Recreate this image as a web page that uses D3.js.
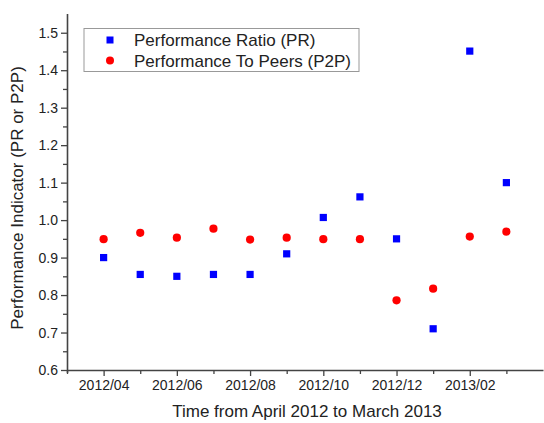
<!DOCTYPE html>
<html>
<head>
<meta charset="utf-8">
<script src="https://cdn.jsdelivr.net/npm/d3@7"></script>
<style>
  body { margin: 0; background: #fff; }
  svg text { font-family: "Liberation Sans", Arial, sans-serif; fill: #222; }
</style>
</head>
<body>
<script>
// months since 2012/04 (0 = Apr 2012 ... 11 = Mar 2013)
var months = [0, 1, 2, 3, 4, 5, 6, 7, 8, 9, 10, 11];
var prValues = [0.90, 0.855, 0.85, 0.855, 0.855, 0.91, 1.007, 1.062, 0.95, 0.71, 1.451, 1.10];
var p2pValues = [0.949, 0.966, 0.953, 0.977, 0.948, 0.953, 0.949, 0.949, 0.786, 0.817, 0.956, 0.969];
var xTickMonths = [0, 2, 4, 6, 8, 10];
var xTickLabels = ["2012/04", "2012/06", "2012/08", "2012/10", "2012/12", "2013/02"];
var yTicks = [0.6, 0.7, 0.8, 0.9, 1.0, 1.1, 1.2, 1.3, 1.4, 1.5];
var seriesNames = ["Performance Ratio (PR)", "Performance To Peers (P2P)"];

var margin = {top: 14, right: 1, bottom: 53, left: 67},
    width = 544 - margin.left - margin.right,
    height = 423 - margin.top - margin.bottom;

var x = d3.scaleLinear().domain([-1, 12]).range([0, width]);
var y = d3.scaleLinear().domain([0.6, 1.55]).range([height, 0]);

var svg = d3.select("body").append("svg")
    .attr("width", 544)
    .attr("height", 423)
  .append("g")
    .attr("transform", "translate(" + margin.left + "," + margin.top + ")");

// minor ticks
var yMinor = d3.range(0.65, 1.55, 0.1);
svg.append("g")
    .call(d3.axisLeft(y).tickValues(yMinor).tickSize(4).tickFormat(""))
    .call(function(g) { g.select(".domain").remove(); })
    .selectAll("line").attr("stroke", "#444").attr("stroke-width", 1.3);

var xMinor = [-1, 1, 3, 5, 7, 9, 11];
svg.append("g")
    .attr("transform", "translate(0," + height + ")")
    .call(d3.axisBottom(x).tickValues(xMinor).tickSize(4).tickFormat(""))
    .call(function(g) { g.select(".domain").remove(); })
    .selectAll("line").attr("stroke", "#444").attr("stroke-width", 1.3);

// Y axis
var yAxis = svg.append("g")
    .call(d3.axisLeft(y).tickValues(yTicks).tickSize(6).tickSizeOuter(0)
      .tickFormat(d3.format(".1f")));
yAxis.select(".domain").attr("stroke", "#444").attr("stroke-width", 1.6)
    .attr("d", "M0.5," + (height + 3) + "V0");
yAxis.selectAll("line").attr("stroke", "#444").attr("stroke-width", 1.3);
yAxis.selectAll("text").style("font-size", "14px").attr("x", -9);

// X axis
var xAxis = svg.append("g")
    .attr("transform", "translate(0," + height + ")")
    .call(d3.axisBottom(x).tickValues(xTickMonths).tickSize(6).tickSizeOuter(0)
      .tickFormat(function(d, i) { return xTickLabels[i]; }));
xAxis.select(".domain").attr("stroke", "#444").attr("stroke-width", 1.6);
xAxis.selectAll("line").attr("stroke", "#444").attr("stroke-width", 1.3);
xAxis.selectAll("text").style("font-size", "14px").attr("y", 10);

// axis titles
svg.append("text")
    .attr("transform", "rotate(-90)")
    .attr("x", -184)
    .attr("y", -44)
    .style("text-anchor", "middle")
    .style("font-size", "17px")
    .text("Performance Indicator (PR or P2P)");

svg.append("text")
    .attr("x", width / 2 + 2)
    .attr("y", height + 47)
    .style("text-anchor", "middle")
    .style("font-size", "17px")
    .text("Time from April 2012 to March 2013");

// PR squares
svg.selectAll("rect.pr")
    .data(months)
    .enter().append("rect")
    .attr("class", "pr")
    .attr("x", function(d) { return x(d) - 3.6; })
    .attr("y", function(d, i) { return y(prValues[i]) - 3.6; })
    .attr("width", 7.2)
    .attr("height", 7.2)
    .style("fill", "#0000ff");

// P2P circles
svg.selectAll("circle.p2p")
    .data(months)
    .enter().append("circle")
    .attr("class", "p2p")
    .attr("cx", function(d) { return x(d); })
    .attr("cy", function(d, i) { return y(p2pValues[i]); })
    .attr("r", 4.1)
    .style("fill", "#ff0000");

// legend
var legend = svg.append("g").attr("transform", "translate(17,14.5)");
legend.append("rect")
    .attr("width", 275)
    .attr("height", 43)
    .style("fill", "#fff")
    .style("stroke", "#999")
    .style("stroke-width", 1);
legend.append("rect")
    .attr("x", 22.5).attr("y", 8).attr("width", 7).attr("height", 7)
    .style("fill", "#0000ff");
legend.append("circle")
    .attr("cx", 26).attr("cy", 32).attr("r", 4)
    .style("fill", "#ff0000");
legend.selectAll("text.leg")
    .data(seriesNames)
    .enter().append("text")
    .attr("class", "leg")
    .attr("x", 50)
    .attr("y", function(d, i) { return 17.5 + i * 21; })
    .style("font-size", "17px")
    .text(function(d) { return d; });
</script>
</body>
</html>
